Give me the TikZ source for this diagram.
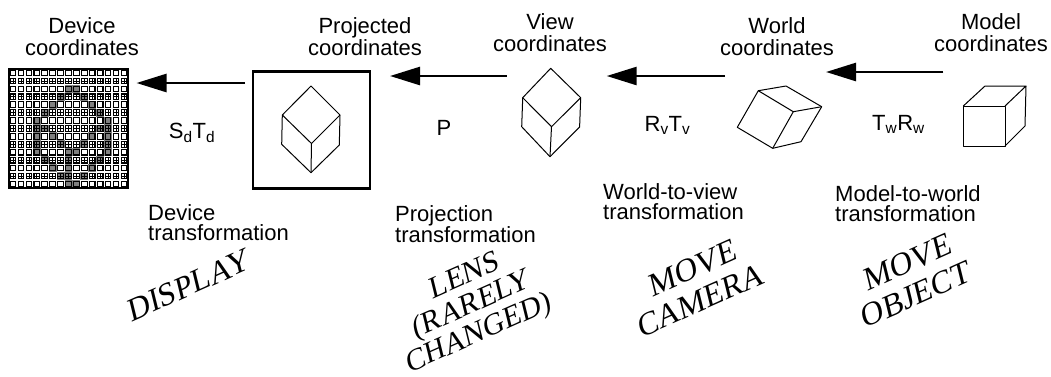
\documentclass[tikz,border=0pt]{standalone}
\usepackage{fontspec}
\setmainfont{Liberation Sans}
\newfontfamily\tms{Liberation Serif}
\usetikzlibrary{arrows.meta}
\begin{document}
\begin{tikzpicture}[x=1pt,y=-1pt,
  lbl/.style={font=\fontsize{22}{21.5}\selectfont, align=center, inner sep=0pt, anchor=base},
  lbll/.style={font=\fontsize{22}{20}\selectfont, align=left, inner sep=0pt, anchor=base west},
  sub/.style={font=\fontsize{22}{22}\selectfont, inner sep=0pt, anchor=base},
  rot/.style={font=\tms\fontsize{32}{33}\selectfont, align=center, inner sep=0pt, rotate=24, xslant=0.18},
  rotsm/.style={rot, font=\tms\fontsize{30}{29}\selectfont},
  arr/.style={line width=2.6pt, -{Triangle[length=30pt,width=18pt]}},
  cube/.style={line width=1pt, line join=round},
  frame/.style={line width=2.8pt},
  pix/.style={line width=1.1pt}]
\useasboundingbox (0,0) rectangle (1051,376);

% ---- device grid ----
\fill[white] (9,69) rectangle (128,188);
\foreach \c/\r in {7/2,8/2, 6/3,9/3, 5/4,10/4, 4/5,11/5, 3/6,12/6, 3/7,4/7,11/7,12/7,
  3/8,5/8,10/8,12/8, 3/9,6/9,9/9,12/9, 3/10,7/10,8/10,12/10, 4/11,7/11,11/11,
  5/12,7/12,10/12, 6/13,7/13,9/13, 7/14,8/14}
  \fill[black!50] ({9+\c*119/15},{69+\r*119/15}) rectangle +({119/15},{119/15});
\foreach \i in {0,...,14}
  \foreach \j in {0,...,14}{
    \draw[pix] ({9+\i*119/15+1.2},{69+\j*119/15+1.2}) rectangle +(5.5,5.5);
    \ifodd\j
      \draw[line width=0.6pt] ({9+\i*119/15+1.2},{69+\j*119/15+3.95}) -- +(5.5,0)
        ({9+\i*119/15+3.95},{69+\j*119/15+1.2}) -- +(0,5.5);
    \fi
  }
\node[frame, draw, minimum size=119pt, inner sep=0pt] (dev) at (68.5,128.5) {};

% ---- projected box and cube ----
\node[frame, draw, minimum width=117pt, minimum height=117pt, inner sep=0pt] (proj) at (311.5,129.7) {};
\draw[cube] (311,86) -- (282.3,115) -- (281.7,144.3) -- (311,172.7) -- (339.3,145) -- (340,115) -- cycle;
\draw[cube] (282.3,115) -- (311.5,143.5) -- (340,115) (311.5,143.5) -- (311,172.7);

% ---- view cube ----
\draw[cube] (550.7,68.3) -- (522.7,97.7) -- (521.7,126.7) -- (550,156.7) -- (579.6,127) -- (580.7,97.7) -- cycle;
\draw[cube] (522.7,97.7) -- (551.5,126.7) -- (580.7,97.7) (551.5,126.7) -- (550,156.7);

% ---- world cube ----
\draw[cube] (758.3,90.7) -- (786,86) -- (821.7,106.7) -- (801,141.7) -- (772.7,148.3) -- (737.3,127.3) -- cycle;
\draw[cube] (758.3,90.7) -- (793.3,111.7) -- (821.7,106.7) (793.3,111.7) -- (772.7,148.3);

% ---- model cube ----
\draw[cube] (963.3,106) rectangle (1005,146);
\draw[cube] (963.3,106) -- (985,86) -- (1026,86) -- (1025,126) -- (1005,146) (1005,106) -- (1026,86);

% ---- arrows ----
\coordinate (a1s) at (245,83);   \coordinate (a1e) at (136.5,83);
\coordinate (a2s) at (506.7,76); \coordinate (a2e) at (390,76);
\coordinate (a3s) at (725,76);   \coordinate (a3e) at (606.7,76);
\coordinate (a4s) at (943.3,72); \coordinate (a4e) at (826,72);
\draw[arr] (a1s) -- (a1e);
\draw[arr] (a2s) -- (a2e);
\draw[arr] (a3s) -- (a3e);
\draw[arr] (a4s) -- (a4e);

% ---- top labels (anchor = baseline of last line) ----
\node[lbl] (t1) at (82,55) {Device\\coordinates};
\node[lbl] (t2) at (365,55) {Projected\\coordinates};
\node[lbl] (t3) at (550,51) {View\\coordinates};
\node[lbl] (t4) at (777,55) {World\\coordinates};
\node[lbl] (t5) at (991,51) {Model\\coordinates};

% ---- transform labels ----
\node[sub] (s1) at (192,138) {S\textsubscript{d}T\textsubscript{d}};
\node[sub] (s2) at (444,135) {P};
\node[sub] (s3) at (667.5,131.7) {R\textsubscript{v}T\textsubscript{v}};
\node[sub] (s4) at (898.5,130) {T\textsubscript{w}R\textsubscript{w}};

% ---- bottom labels ----
\node[lbll] (b1) at (148,240) {Device\\transformation};
\node[lbll] (b2) at (395,242.7) {Projection\\transformation};
\node[lbll] (b3) at (603,219) {World-to-view\\transformation};
\node[lbll] (b4) at (835,221.7) {Model-to-world\\transformation};

% ---- rotated captions ----
\node[rot] (r1) at (189,285) {DISPLAY};
\node[rotsm] (r2) at (472,306) {LENS\\(RARELY\\CHANGED)};
\node[rot] (r3) at (697,284) {MOVE\\CAMERA};
\node[rot] (r4) at (912,278) {MOVE\\OBJECT};
\end{tikzpicture}
\end{document}
